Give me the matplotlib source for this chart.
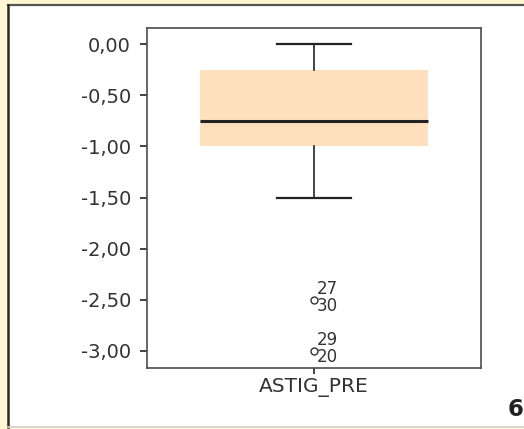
import matplotlib
matplotlib.use("Agg")
import matplotlib.pyplot as plt
from matplotlib.lines import Line2D
from matplotlib.patches import Rectangle

# ---- data ----
variable = "ASTIG_PRE"
q1, median, q3 = -1.00, -0.75, -0.25
whisker_low, whisker_high = -1.50, 0.00
outlier_values = [-2.50, -3.00]
outlier_labels_upper = ["27", "29"]
outlier_labels_lower = ["30", "20"]
y_ticks = [0.0, -0.5, -1.0, -1.5, -2.0, -2.5, -3.0]
y_tick_labels = ["0,00", "-0,50", "-1,00", "-1,50", "-2,00", "-2,50", "-3,00"]
panel_number = "6"

W, H = 524, 429
fig = plt.figure(figsize=(W / 100, H / 100), dpi=100)
fig.patch.set_facecolor("#FFF8D3")

# inner white panel
px0, py_top, py_bot = 8, 5, 427
fig.patches.append(Rectangle((px0 / W, 1 - py_bot / H), 1 - px0 / W, (py_bot - py_top) / H,
                             transform=fig.transFigure, facecolor="white", edgecolor="none",
                             zorder=-3))
fig.lines.append(Line2D([px0 / W, 1], [1 - py_top / H] * 2, transform=fig.transFigure,
                        color="#555555", lw=1.6, zorder=-2))
fig.lines.append(Line2D([px0 / W] * 2, [1 - py_top / H, 1 - py_bot / H], transform=fig.transFigure,
                        color="#2a2a2a", lw=1.8, zorder=-2))
fig.lines.append(Line2D([px0 / W, 1], [1 - py_bot / H] * 2, transform=fig.transFigure,
                        color="#cfcfcf", lw=1.2, zorder=-2))

ax = fig.add_axes([147 / W, 1 - 368 / H, 334 / W, 340 / H])
ax.set_zorder(1)
ax.set_facecolor("white")

stats = [dict(med=median, q1=q1, q3=q3, whislo=whisker_low, whishi=whisker_high,
              fliers=[], label=variable)]
ax.bxp(stats, positions=[1], widths=0.68, capwidths=0.222, patch_artist=True,
       showfliers=False,
       boxprops=dict(facecolor="#FEE0BF", edgecolor="none", linewidth=0),
       medianprops=dict(color="#222222", linewidth=2.2, solid_capstyle="butt"),
       whiskerprops=dict(color="#222222", linewidth=1.2),
       capprops=dict(color="#222222", linewidth=1.6))

ax.plot([1] * len(outlier_values), outlier_values, linestyle="none", marker="o",
        markersize=5, markerfacecolor="none", markeredgecolor="#333333", markeredgewidth=1.0)
for v, up, lo in zip(outlier_values, outlier_labels_upper, outlier_labels_lower):
    ax.annotate(up, (1, v), xytext=(3, 11), textcoords="offset pixels",
                ha="left", va="center", fontsize=12, color="#333333")
    ax.annotate(lo, (1, v), xytext=(3, -6.5), textcoords="offset pixels",
                ha="left", va="center", fontsize=12, color="#333333")

ax.set_xlim(0.5, 1.5)
ax.set_ylim(-3.169, 0.160)
ax.set_yticks(y_ticks)
ax.set_yticklabels(y_tick_labels)
ax.set_xticks([1])
ax.set_xticklabels([variable], fontsize=14.5)

for s in ax.spines.values():
    s.set_color("#4d4d4d")
    s.set_linewidth(1.2)
ax.tick_params(axis="y", direction="out", length=5, width=1.2, color="#222222",
               labelsize=14, labelcolor="#333333", pad=6.5)
ax.tick_params(axis="x", direction="out", length=4, width=1.2, color="#222222",
               labelcolor="#333333", pad=3)

fig.text(508 / W, 1 - 410 / H, panel_number, ha="left", va="center",
         fontsize=16.5, fontweight="bold", color="#222222")

fig.savefig("out.png", dpi=100, facecolor=fig.get_facecolor())
